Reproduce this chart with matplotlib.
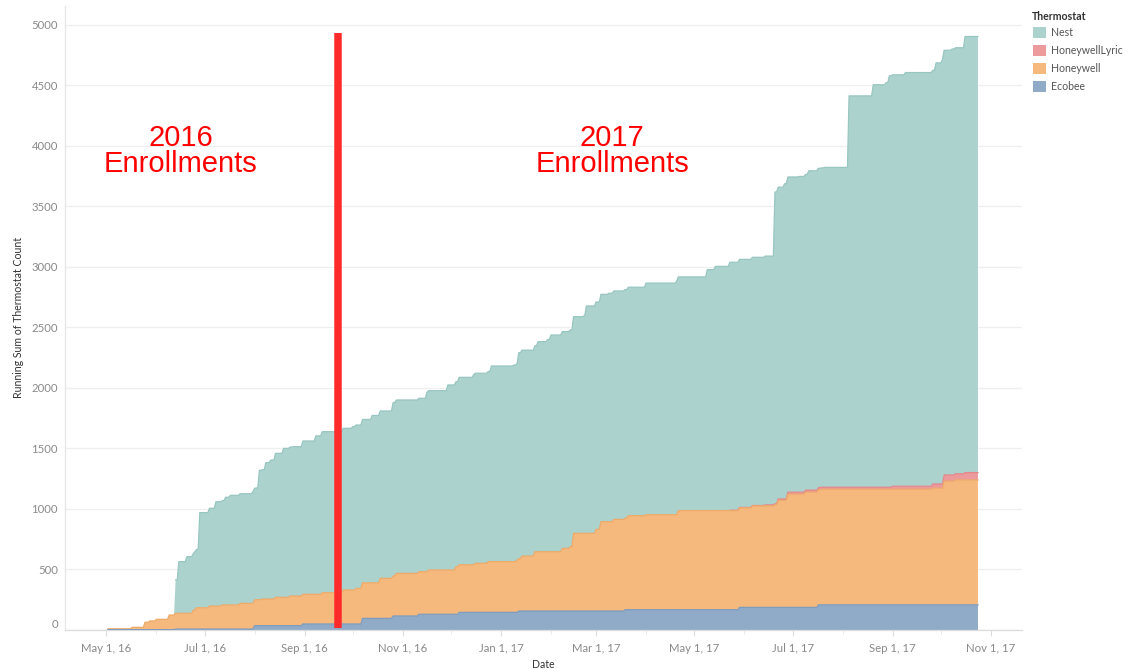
import matplotlib
matplotlib.use("Agg")
import matplotlib.pyplot as plt
import matplotlib.dates as mdates
from matplotlib.patches import Rectangle
from matplotlib.ticker import FuncFormatter
import numpy as np
import pandas as pd

# ---------------- data (running sums) ----------------
ecobee_dates = ["2016-05-02", "2016-06-13", "2016-08-01", "2016-08-31", "2016-10-07",
                "2016-10-26", "2016-11-11", "2016-12-06", "2017-01-12", "2017-03-19",
                "2017-05-29", "2017-07-17"]
ecobee_counts = [3, 8, 36, 50, 96, 116, 130, 146, 157, 168, 187, 208]

honeywell_dates = ["2016-05-02", "2016-05-17", "2016-05-25", "2016-05-28", "2016-06-01",
                   "2016-06-09", "2016-06-13", "2016-06-24", "2016-06-26", "2016-07-04",
                   "2016-07-12", "2016-07-23", "2016-08-02", "2016-08-06", "2016-08-14",
                   "2016-08-23", "2016-09-12", "2016-09-25", "2016-10-03", "2016-10-18",
                   "2016-10-28", "2016-11-17", "2016-12-04", "2016-12-16", "2016-12-24",
                   "2017-01-11", "2017-01-14", "2017-01-22", "2017-02-08", "2017-02-13",
                   "2017-02-15", "2017-03-01", "2017-03-04", "2017-03-12", "2017-03-21",
                   "2017-04-01", "2017-04-21", "2017-05-29", "2017-06-06", "2017-06-20",
                   "2017-06-22", "2017-06-28", "2017-07-09", "2017-07-19", "2017-09-26",
                   "2017-10-03", "2017-10-10"]
honeywell_counts = [7, 19, 61, 72, 85, 121, 130, 157, 176, 190,
                    199, 212, 215, 220, 234, 245, 258, 281, 294, 331,
                    352, 366, 393, 405, 419, 433, 454, 490, 518, 532,
                    642, 675, 738, 757, 777, 785, 819, 823, 839, 848,
                    884, 935, 952, 955, 964, 1022, 1032]

lyric_dates = ["2017-05-23", "2017-06-14", "2017-06-22", "2017-06-28", "2017-09-01",
               "2017-09-26", "2017-10-03", "2017-10-16"]
lyric_counts = [3, 8, 12, 17, 25, 35, 51, 61]

nest_dates = ["2016-06-13", "2016-06-15", "2016-06-20", "2016-06-25", "2016-06-28",
              "2016-07-04", "2016-07-08", "2016-07-14", "2016-07-17", "2016-07-31",
              "2016-08-04", "2016-08-08", "2016-08-11", "2016-08-14", "2016-08-19",
              "2016-08-25", "2016-08-31", "2016-09-08", "2016-09-12", "2016-09-25",
              "2016-10-01", "2016-10-13", "2016-10-26", "2016-11-16", "2016-11-29",
              "2016-12-06", "2016-12-15", "2016-12-26", "2017-01-09", "2017-01-12",
              "2017-01-24", "2017-01-30", "2017-02-01", "2017-02-22", "2017-02-23",
              "2017-03-09", "2017-04-01", "2017-04-20", "2017-05-09", "2017-05-14",
              "2017-05-23", "2017-05-29", "2017-06-06", "2017-06-14", "2017-06-20",
              "2017-06-26", "2017-07-05", "2017-07-11", "2017-07-21", "2017-08-05",
              "2017-08-20", "2017-08-28", "2017-08-30", "2017-09-09", "2017-09-28",
              "2017-10-02", "2017-10-08", "2017-10-16"]
nest_counts = [275, 427, 468, 482, 786, 808, 862, 890, 906, 923,
               1069, 1127, 1149, 1190, 1231, 1234, 1267, 1309, 1331, 1336,
               1350, 1383, 1433, 1482, 1529, 1549, 1571, 1617, 1625, 1702,
               1736, 1755, 1791, 1804, 1879, 1888, 1914, 1931, 1991, 2018,
               2049, 2050, 2051, 2056, 2577, 2605, 2609, 2639, 2643, 3234,
               3326, 3343, 3400, 3419, 3480, 3510, 3521, 3604]

first_date = "2016-05-02"
last_date = "2017-10-24"

series_names = ["Ecobee", "Honeywell", "HoneywellLyric", "Nest"]
legend_order = ["Nest", "HoneywellLyric", "Honeywell", "Ecobee"]
y_ticks = [0, 500, 1000, 1500, 2000, 2500, 3000, 3500, 4000, 4500, 5000]

divider_date = "2016-09-22"
annotations = [("2016\nEnrollments", "2016-06-16"), ("2017\nEnrollments", "2017-03-11")]

# ---------------- styling ----------------
fill_colors = {"Ecobee": "#90abc8", "Honeywell": "#f5b97d",
               "HoneywellLyric": "#ec9a9b", "Nest": "#acd2ce"}
edge_colors = {"Ecobee": "#7f9cbd", "Honeywell": "#eeaa68",
               "HoneywellLyric": "#e3878a", "Nest": "#98c6c1"}

plt.rcParams["font.family"] = ["Lato", "DejaVu Sans"]

W, H = 1129, 670
fig = plt.figure(figsize=(W / 100, H / 100), dpi=100)
ax_left, ax_right, ax_top, ax_bottom = 65, 1022, 6, 630
ax = fig.add_axes([ax_left / W, 1 - ax_bottom / H,
                   (ax_right - ax_left) / W, (ax_bottom - ax_top) / H])

idx = pd.date_range(first_date, last_date, freq="D")


def running(dates, counts):
    s = pd.Series(counts, index=pd.to_datetime(dates), dtype=float)
    return s.reindex(idx, method="ffill").fillna(0).to_numpy()


vals = {
    "Ecobee": running(ecobee_dates, ecobee_counts),
    "Honeywell": running(honeywell_dates, honeywell_counts),
    "HoneywellLyric": running(lyric_dates, lyric_counts),
    "Nest": running(nest_dates, nest_counts),
}

ax.stackplot(idx, *[vals[n] for n in series_names],
             colors=[fill_colors[n] for n in series_names], linewidth=0, zorder=2)

cum = np.zeros(len(idx))
tops = {}
for n in series_names:
    cum = cum + vals[n]
    tops[n] = cum.copy()
for n in ["Nest", "HoneywellLyric", "Honeywell", "Ecobee"]:
    y = tops[n]
    if n in ("HoneywellLyric", "Nest"):
        y = np.where(vals[n] > 0, y, np.nan)
    ax.plot(idx, y, color=edge_colors[n], lw=0.9, zorder=3)

# axes limits
ax.set_xlim(pd.Timestamp("2016-04-05 08:00"), pd.Timestamp("2017-11-20 08:00"))
ax.set_ylim(0, 5157)

# grid
ax.set_yticks(y_ticks)
ax.yaxis.grid(True, color="#efefef", lw=0.9, zorder=0)
ax.xaxis.grid(False)
ax.set_axisbelow(True)
for s in ["top", "right"]:
    ax.spines[s].set_visible(False)
ax.spines["left"].set_color("#e6e6e6")
ax.spines["bottom"].set_color("#dcdcdc")
ax.spines["left"].set_linewidth(0.9)
ax.spines["bottom"].set_linewidth(0.9)

ax.tick_params(axis="y", length=0, pad=5, labelsize=8.2, labelcolor="#8a8a8a")
ax.yaxis.set_major_formatter(FuncFormatter(lambda v, p: f"{int(v)}"))

ax.xaxis.set_major_locator(mdates.MonthLocator(bymonth=[1, 3, 5, 7, 9, 11]))
ax.xaxis.set_minor_locator(mdates.MonthLocator())
ax.xaxis.set_major_formatter(FuncFormatter(
    lambda v, p: (lambda d: f"{d:%b} {d.day}, {d:%y}")(mdates.num2date(v))))
ax.tick_params(axis="x", which="major", length=4, color="#dcdcdc", pad=5,
               labelsize=8.2, labelcolor="#8a8a8a")
ax.tick_params(axis="x", which="minor", length=3, color="#e6e6e6")

# keep the "0" label inside, as the original does
fig.canvas.draw()
for lbl in ax.get_yticklabels():
    if lbl.get_text() == "0":
        lbl.set_va("bottom")

# divider and annotations
ax.vlines(pd.Timestamp(divider_date), 15, 4935, color="#ff2b2b", lw=5.4, zorder=5)
for txt, d in annotations:
    ax.text(pd.Timestamp(d), 3960, txt, ha="center", va="center", color="#ff0000",
            fontsize=21, family=["Liberation Sans", "DejaVu Sans"], linespacing=0.92,
            zorder=6)

# axis titles
fig.text(543 / W, 1 - 665 / H, "Date", ha="center", va="center", fontsize=7.6,
         color="#333333")
fig.text(19 / W, 1 - 317 / H, "Running Sum of Thermostat Count", rotation=90,
         ha="center", va="center", fontsize=7.6, color="#333333")

# legend (Tableau-style, top right)
fig.text(1032 / W, 1 - 16 / H, "Thermostat", ha="left", va="center", fontsize=7.6,
         fontweight="bold", color="#333333")
leg_y = [32.5, 50, 68.5, 86]
for n, yy in zip(legend_order, leg_y):
    fig.patches.append(Rectangle((1033 / W, 1 - (yy + 5.5) / H), 13 / W, 11 / H,
                                 transform=fig.transFigure, facecolor=fill_colors[n],
                                 edgecolor="none"))
    fig.text(1051 / W, 1 - yy / H, n, ha="left", va="center", fontsize=7.6,
             color="#555555")

fig.savefig("out.png", dpi=100)
